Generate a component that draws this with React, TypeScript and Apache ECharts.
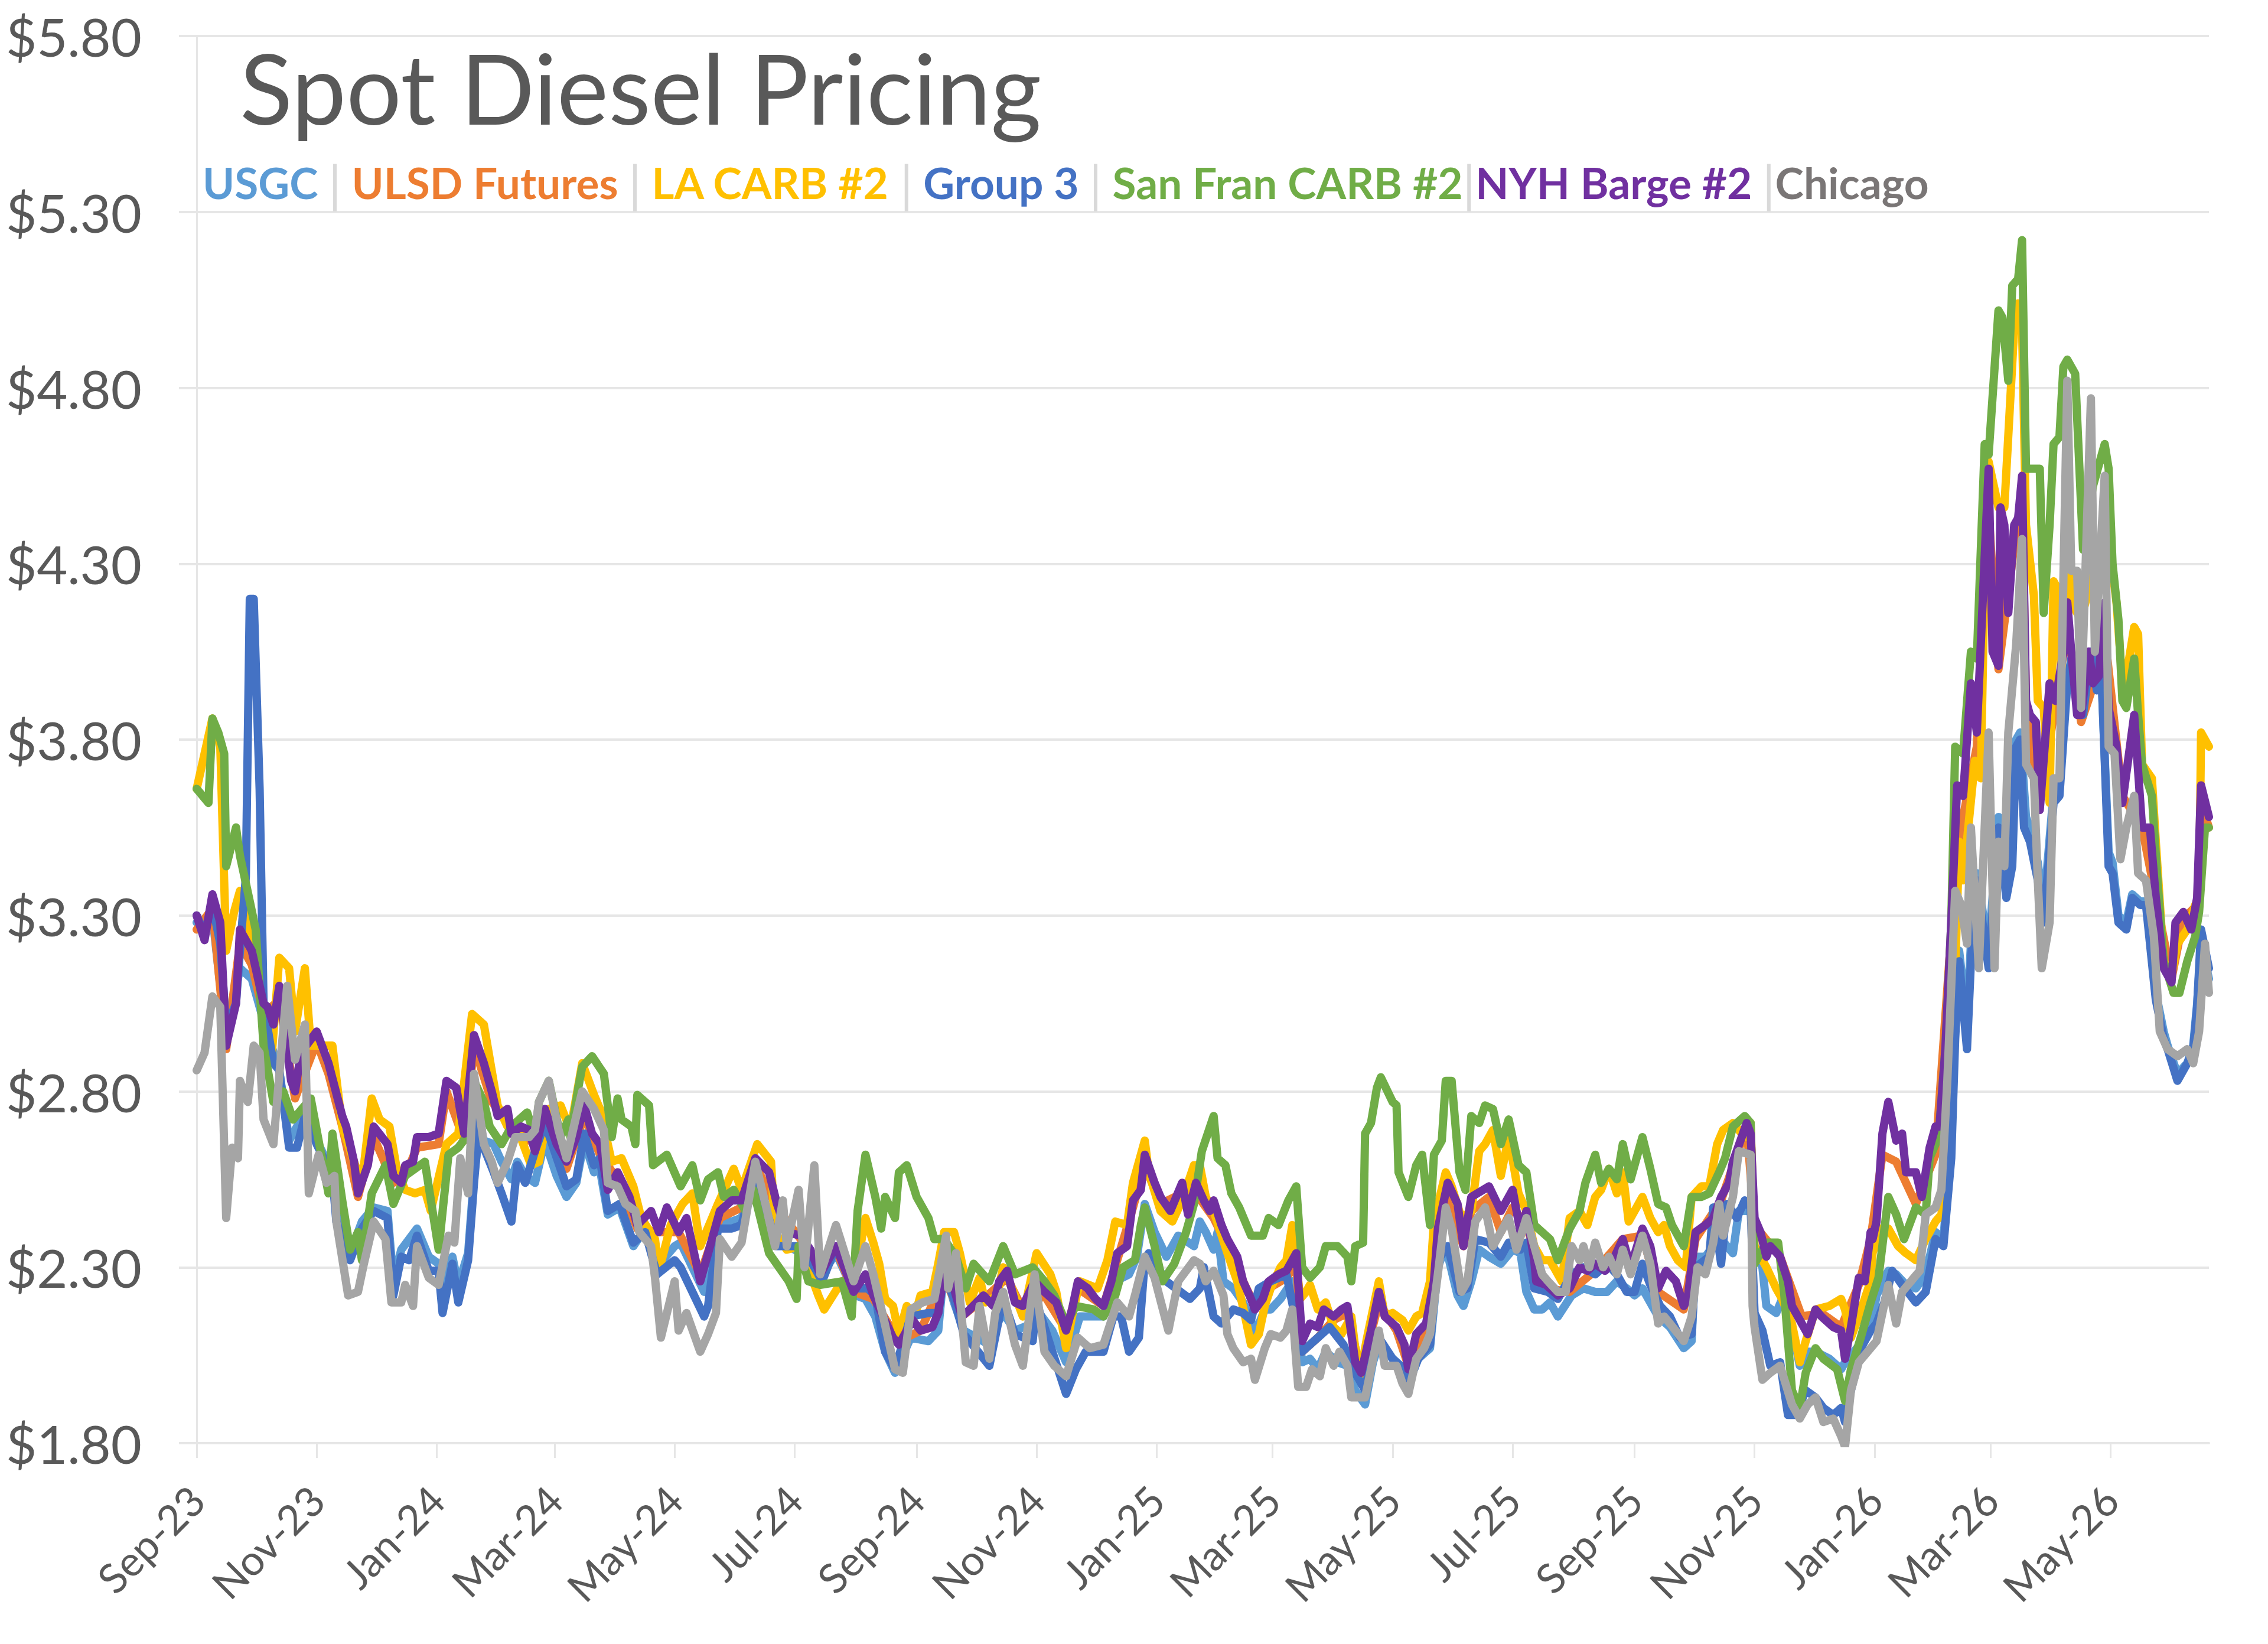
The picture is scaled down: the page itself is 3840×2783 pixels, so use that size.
import React, { useEffect, useRef } from "react";
import * as echarts from "echarts";

// ---- axis / categories ----
const START_UTC = Date.UTC(2023, 8, 1); // 2023-09-01
const DAY_COUNT = 1024; // through 2026-06-20
const MONTHS = ["Jan", "Feb", "Mar", "Apr", "May", "Jun", "Jul", "Aug", "Sep", "Oct", "Nov", "Dec"];
const LABEL_MONTHS = [9, 11, 1, 3, 5, 7];
const Y_MIN = 1.8;
const Y_MAX = 5.8;
const Y_STEP = 0.5;

const categories: string[] = [];
for (let i = 0; i < DAY_COUNT; i++) {
  categories.push(new Date(START_UTC + i * 86400000).toISOString().slice(0, 10));
}

// ---- series values: [days since 2023-09-01, $/gal] ----
const usgc: [number, number][] = [[0,3.28],[8,3.30],[15,2.95],[22,3.15],[28,3.12],[34,3.00],[42,2.86],[47,2.66],[55,2.74],[61,2.66],[69,2.57],[71,2.45],[78,2.34],[84,2.43],[90,2.47],[97,2.46],[100,2.26],[104,2.35],[112,2.41],[118,2.33],[123,2.31],[125,2.24],[130,2.33],[133,2.25],[138,2.34],[141,2.56],[144,2.70],[146,2.66],[151,2.65],[155,2.60],[160,2.55],[163,2.60],[167,2.56],[172,2.54],[177,2.66],[183,2.56],[188,2.50],[193,2.54],[197,2.66],[202,2.57],[205,2.58],[209,2.45],[215,2.47],[222,2.36],[228,2.41],[234,2.30],[243,2.36],[246,2.37],[252,2.30],[258,2.23],[260,2.26],[265,2.43],[272,2.43],[277,2.44],[284,2.56],[291,2.44],[295,2.38],[307,2.34],[312,2.30],[318,2.28],[325,2.34],[335,2.22],[340,2.21],[345,2.16],[350,2.06],[355,2.00],[363,2.10],[372,2.09],[377,2.12],[380,2.30],[385,2.20],[390,2.12],[403,2.08],[407,2.14],[410,2.17],[416,2.12],[425,2.14],[427,2.18],[435,2.12],[442,2.03],[449,2.16],[461,2.16],[467,2.26],[474,2.28],[478,2.33],[482,2.48],[487,2.40],[493,2.33],[499,2.39],[507,2.36],[510,2.43],[513,2.40],[517,2.35],[519,2.40],[522,2.26],[527,2.24],[532,2.20],[536,2.15],[538,2.11],[543,2.18],[546,2.18],[551,2.21],[557,2.26],[562,2.03],[566,2.04],[570,2.01],[574,2.06],[580,2.03],[585,2.02],[589,1.95],[594,1.91],[598,2.03],[601,2.08],[608,2.04],[614,2.01],[616,1.97],[621,2.04],[627,2.07],[631,2.30],[635,2.36],[641,2.22],[644,2.19],[648,2.26],[652,2.35],[657,2.33],[663,2.31],[669,2.35],[673,2.34],[676,2.23],[680,2.18],[684,2.18],[688,2.20],[692,2.16],[699,2.22],[705,2.24],[711,2.23],[717,2.23],[722,2.26],[727,2.24],[731,2.22],[735,2.24],[739,2.20],[743,2.16],[749,2.13],[756,2.07],[760,2.09],[762,2.33],[767,2.33],[771,2.36],[775,2.38],[781,2.34],[784,2.46],[790,2.46],[792,2.36],[796,2.30],[798,2.19],[803,2.17],[806,2.21],[811,2.13],[815,2.02],[819,2.06],[823,2.06],[830,2.04],[836,2.01],[838,2.03],[841,2.05],[847,2.09],[851,2.12],[854,2.22],[860,2.29],[864,2.28],[869,2.25],[874,2.24],[879,2.28],[884,2.40],[888,2.38],[892,2.65],[894,3.00],[896,3.20],[900,3.00],[902,3.22],[905,3.42],[911,3.20],[916,3.58],[920,3.40],[923,3.48],[925,3.80],[927,3.82],[930,3.58],[932,3.55],[936,3.45],[939,3.32],[944,3.65],[947,3.66],[951,3.98],[953,4.02],[957,3.90],[959,3.88],[963,4.03],[966,3.96],[968,4.03],[972,3.48],[974,3.45],[977,3.30],[981,3.28],[984,3.36],[988,3.34],[991,3.34],[996,3.08],[1000,2.97],[1002,2.93],[1007,2.85],[1012,2.88],[1015,2.93],[1017,3.05],[1019,3.22],[1023,3.12]];

const ulsd: [number, number][] = [[0,3.26],[8,3.32],[15,2.92],[22,3.22],[28,3.16],[34,3.02],[42,3.06],[50,2.78],[61,2.94],[67,2.85],[74,2.70],[82,2.50],[90,2.67],[100,2.54],[106,2.56],[112,2.64],[123,2.65],[127,2.80],[136,2.66],[141,2.93],[150,2.77],[158,2.72],[169,2.66],[177,2.72],[188,2.58],[197,2.73],[205,2.62],[214,2.55],[224,2.41],[235,2.40],[245,2.40],[256,2.28],[266,2.44],[277,2.47],[284,2.59],[295,2.47],[307,2.38],[317,2.28],[325,2.35],[334,2.23],[344,2.21],[357,2.09],[368,2.12],[380,2.27],[389,2.16],[400,2.21],[412,2.27],[420,2.18],[431,2.22],[442,2.12],[448,2.24],[461,2.19],[468,2.32],[476,2.47],[482,2.59],[490,2.48],[501,2.51],[508,2.51],[517,2.44],[524,2.36],[532,2.26],[538,2.19],[545,2.24],[554,2.27],[559,2.31],[562,2.06],[570,2.10],[578,2.15],[585,2.17],[592,2.00],[601,2.20],[610,2.12],[616,2.02],[625,2.13],[631,2.38],[636,2.50],[644,2.36],[648,2.46],[657,2.50],[663,2.40],[669,2.47],[676,2.42],[686,2.24],[698,2.23],[711,2.29],[725,2.38],[735,2.39],[743,2.23],[756,2.18],[762,2.38],[775,2.49],[788,2.70],[792,2.42],[805,2.33],[816,2.16],[826,2.17],[836,2.13],[845,2.25],[851,2.38],[857,2.62],[864,2.60],[874,2.48],[884,2.62],[892,3.25],[898,3.58],[905,3.78],[911,4.45],[916,4.00],[924,4.35],[928,4.50],[930,3.90],[937,3.62],[945,3.90],[951,4.12],[958,3.85],[964,3.95],[970,4.10],[979,3.64],[989,3.55],[996,3.35],[1004,3.12],[1010,3.29],[1017,3.33],[1019,3.62],[1023,3.55]];

const laCarb: [number, number][] = [[0,3.66],[8,3.86],[12,3.78],[15,3.20],[19,3.31],[22,3.37],[26,3.28],[30,3.18],[36,2.94],[38,2.89],[42,3.18],[47,3.15],[50,2.97],[55,3.15],[58,2.93],[69,2.93],[74,2.70],[80,2.60],[84,2.54],[89,2.78],[93,2.72],[98,2.70],[102,2.57],[106,2.52],[111,2.51],[116,2.52],[119,2.46],[127,2.65],[133,2.68],[140,3.02],[146,2.99],[153,2.76],[158,2.70],[162,2.71],[170,2.59],[174,2.60],[179,2.75],[185,2.76],[190,2.69],[196,2.88],[202,2.79],[205,2.75],[211,2.60],[216,2.61],[222,2.53],[226,2.44],[233,2.38],[235,2.29],[241,2.42],[247,2.48],[252,2.51],[256,2.36],[262,2.44],[265,2.48],[273,2.58],[277,2.52],[285,2.65],[292,2.60],[294,2.40],[300,2.35],[307,2.36],[316,2.22],[319,2.18],[328,2.26],[333,2.22],[340,2.44],[344,2.37],[347,2.31],[350,2.21],[354,2.19],[357,2.11],[361,2.19],[365,2.16],[368,2.22],[374,2.23],[377,2.31],[380,2.40],[385,2.40],[388,2.34],[391,2.26],[393,2.20],[398,2.27],[401,2.20],[407,2.22],[410,2.30],[416,2.22],[420,2.16],[427,2.34],[434,2.28],[437,2.23],[442,2.07],[445,2.16],[449,2.26],[458,2.24],[463,2.32],[467,2.43],[473,2.42],[476,2.54],[482,2.66],[484,2.57],[490,2.46],[496,2.43],[501,2.49],[507,2.59],[510,2.59],[513,2.50],[517,2.46],[524,2.34],[529,2.26],[533,2.16],[536,2.08],[540,2.11],[543,2.19],[546,2.24],[551,2.30],[554,2.32],[557,2.42],[561,2.21],[564,2.23],[566,2.25],[570,2.18],[574,2.20],[578,2.13],[582,2.11],[587,2.16],[591,1.98],[595,2.10],[601,2.26],[604,2.16],[608,2.17],[613,2.15],[616,2.12],[620,2.16],[623,2.17],[627,2.26],[629,2.43],[635,2.57],[638,2.53],[643,2.44],[648,2.46],[652,2.63],[655,2.65],[659,2.69],[663,2.56],[667,2.67],[672,2.51],[676,2.46],[680,2.36],[684,2.32],[688,2.32],[694,2.26],[698,2.44],[703,2.46],[707,2.42],[711,2.50],[714,2.52],[718,2.58],[722,2.51],[725,2.57],[728,2.43],[735,2.50],[739,2.44],[743,2.40],[746,2.42],[749,2.36],[753,2.32],[757,2.30],[760,2.50],[765,2.53],[769,2.53],[773,2.65],[776,2.69],[781,2.71],[787,2.67],[790,2.71],[792,2.36],[798,2.30],[803,2.24],[806,2.21],[811,2.14],[815,2.03],[818,2.09],[823,2.18],[830,2.19],[836,2.21],[838,2.18],[841,2.10],[845,2.16],[851,2.26],[852,2.34],[856,2.41],[860,2.41],[865,2.36],[869,2.34],[874,2.32],[879,2.38],[884,2.43],[887,2.45],[890,2.61],[893,2.95],[896,3.51],[898,3.40],[904,3.74],[907,3.69],[909,4.28],[911,4.59],[916,4.46],[919,4.46],[924,4.97],[926,5.04],[928,4.97],[930,4.41],[934,4.21],[936,3.91],[939,3.89],[942,3.62],[944,4.25],[946,4.23],[948,3.96],[951,4.60],[953,4.19],[958,4.14],[962,4.23],[965,4.32],[967,4.23],[970,4.34],[972,4.41],[974,4.28],[976,4.19],[979,3.96],[981,3.98],[985,4.12],[987,4.10],[989,3.73],[994,3.69],[996,3.51],[1000,3.17],[1004,3.13],[1007,3.22],[1012,3.26],[1016,3.33],[1018,3.35],[1019,3.82],[1023,3.78]];

const group3: [number, number][] = [[0,3.30],[4,3.25],[8,3.33],[12,3.22],[15,2.98],[20,3.05],[22,3.20],[25,3.41],[27,4.20],[29,4.20],[32,3.66],[34,3.05],[39,2.88],[42,2.86],[47,2.64],[51,2.64],[55,2.73],[61,2.65],[69,2.56],[71,2.43],[78,2.32],[84,2.41],[90,2.46],[97,2.44],[100,2.22],[104,2.33],[108,2.32],[112,2.39],[118,2.29],[123,2.29],[125,2.17],[130,2.31],[133,2.20],[138,2.32],[141,2.54],[144,2.73],[146,2.64],[151,2.57],[155,2.51],[160,2.43],[163,2.59],[167,2.54],[172,2.63],[177,2.71],[188,2.53],[193,2.55],[197,2.68],[202,2.59],[205,2.61],[209,2.46],[215,2.48],[222,2.37],[228,2.40],[234,2.28],[243,2.32],[246,2.30],[258,2.16],[260,2.19],[265,2.41],[272,2.41],[277,2.42],[284,2.57],[295,2.36],[307,2.36],[312,2.32],[318,2.26],[325,2.36],[335,2.24],[341,2.24],[345,2.22],[350,2.06],[355,2.01],[363,2.16],[372,2.17],[377,2.17],[380,2.28],[385,2.21],[390,2.11],[403,2.02],[407,2.13],[410,2.21],[416,2.11],[425,2.09],[427,2.20],[435,2.06],[442,1.94],[447,2.01],[452,2.06],[461,2.06],[466,2.16],[470,2.16],[474,2.06],[479,2.10],[482,2.32],[484,2.34],[493,2.26],[505,2.21],[510,2.24],[512,2.30],[517,2.16],[521,2.14],[527,2.18],[532,2.17],[536,2.15],[540,2.24],[546,2.26],[554,2.28],[562,2.06],[568,2.09],[576,2.13],[583,2.08],[589,2.00],[594,1.95],[598,2.07],[601,2.10],[608,2.04],[614,2.01],[616,1.97],[621,2.04],[627,2.08],[631,2.32],[636,2.36],[642,2.23],[646,2.24],[650,2.38],[657,2.37],[663,2.33],[667,2.37],[673,2.35],[676,2.37],[680,2.24],[687,2.23],[692,2.21],[699,2.28],[705,2.30],[711,2.28],[717,2.31],[722,2.28],[727,2.23],[731,2.23],[735,2.31],[739,2.25],[744,2.19],[749,2.16],[754,2.10],[760,2.11],[762,2.30],[769,2.33],[771,2.47],[775,2.31],[778,2.48],[783,2.44],[787,2.49],[790,2.47],[792,2.17],[796,2.12],[800,2.02],[805,2.03],[809,1.88],[813,1.88],[818,1.95],[823,1.93],[827,1.90],[832,1.88],[836,1.90],[838,1.86],[841,1.95],[847,2.08],[851,2.12],[854,2.14],[858,2.20],[862,2.29],[867,2.25],[874,2.20],[879,2.23],[884,2.38],[888,2.36],[892,2.61],[894,2.95],[896,3.17],[900,2.92],[902,3.17],[905,3.40],[911,3.15],[916,3.55],[920,3.35],[923,3.44],[925,3.78],[927,3.80],[929,3.55],[932,3.51],[936,3.40],[939,3.28],[944,3.62],[947,3.64],[951,3.96],[953,4.03],[957,3.87],[959,3.87],[963,4.05],[966,3.94],[968,4.05],[972,3.44],[974,3.42],[977,3.28],[981,3.26],[984,3.35],[988,3.33],[991,3.33],[996,3.06],[1000,2.95],[1002,2.92],[1007,2.83],[1012,2.88],[1015,2.92],[1017,3.04],[1019,3.26],[1023,3.15]];

const sanFran: [number, number][] = [[0,3.66],[6,3.62],[8,3.86],[11,3.82],[14,3.76],[15,3.44],[20,3.55],[22,3.47],[27,3.34],[30,3.26],[34,2.93],[39,2.77],[44,2.80],[49,2.72],[58,2.78],[67,2.51],[69,2.68],[74,2.49],[78,2.35],[82,2.40],[84,2.32],[89,2.51],[96,2.59],[100,2.48],[106,2.56],[116,2.60],[123,2.35],[128,2.62],[133,2.64],[137,2.67],[141,2.83],[146,2.77],[149,2.70],[155,2.65],[160,2.70],[168,2.74],[172,2.67],[174,2.77],[179,2.83],[185,2.67],[189,2.72],[190,2.67],[194,2.81],[196,2.87],[201,2.90],[207,2.85],[211,2.67],[214,2.78],[216,2.72],[221,2.70],[223,2.65],[224,2.79],[230,2.76],[232,2.59],[239,2.62],[246,2.53],[252,2.59],[256,2.49],[260,2.55],[265,2.57],[268,2.50],[273,2.52],[279,2.46],[283,2.52],[291,2.34],[301,2.26],[305,2.21],[306,2.36],[311,2.26],[317,2.25],[328,2.26],[333,2.16],[336,2.46],[340,2.62],[345,2.50],[348,2.41],[350,2.50],[355,2.44],[357,2.57],[361,2.59],[366,2.50],[372,2.44],[375,2.38],[380,2.38],[386,2.33],[391,2.24],[395,2.31],[403,2.26],[410,2.36],[416,2.28],[425,2.30],[431,2.26],[436,2.22],[442,2.14],[447,2.19],[456,2.18],[461,2.16],[467,2.22],[471,2.30],[477,2.32],[480,2.42],[482,2.47],[487,2.36],[491,2.26],[497,2.31],[503,2.40],[507,2.48],[511,2.63],[517,2.73],[519,2.61],[523,2.59],[526,2.51],[530,2.47],[536,2.39],[542,2.39],[545,2.44],[550,2.42],[555,2.49],[559,2.53],[562,2.30],[566,2.27],[571,2.30],[574,2.36],[580,2.36],[585,2.33],[587,2.26],[589,2.36],[593,2.37],[594,2.68],[597,2.71],[600,2.81],[602,2.84],[608,2.77],[610,2.76],[611,2.57],[616,2.50],[620,2.59],[623,2.62],[627,2.42],[629,2.62],[633,2.66],[635,2.83],[638,2.83],[642,2.57],[645,2.52],[648,2.73],[652,2.71],[655,2.76],[659,2.75],[663,2.65],[667,2.72],[672,2.59],[676,2.57],[680,2.42],[688,2.38],[692,2.32],[698,2.41],[703,2.46],[706,2.54],[711,2.62],[714,2.54],[718,2.58],[722,2.55],[725,2.65],[729,2.55],[735,2.67],[739,2.58],[743,2.48],[747,2.47],[750,2.42],[756,2.36],[760,2.50],[765,2.50],[769,2.51],[774,2.57],[777,2.61],[781,2.70],[787,2.73],[790,2.71],[792,2.31],[798,2.37],[804,2.37],[807,2.23],[811,1.95],[815,1.90],[818,2.00],[823,2.07],[827,2.04],[834,2.01],[838,1.92],[841,2.01],[846,2.10],[851,2.20],[855,2.27],[860,2.50],[864,2.45],[868,2.38],[874,2.47],[879,2.45],[881,2.61],[884,2.65],[886,2.70],[889,2.92],[892,3.28],[894,3.78],[898,3.76],[902,4.05],[905,4.03],[909,4.64],[911,4.61],[916,5.02],[918,5.00],[921,4.82],[923,5.09],[926,5.11],[928,5.22],[930,4.57],[934,4.57],[937,4.57],[939,4.16],[942,4.41],[944,4.64],[947,4.66],[949,4.86],[951,4.88],[955,4.84],[957,4.59],[959,4.34],[964,4.52],[970,4.64],[972,4.57],[974,4.30],[977,4.14],[979,3.91],[981,3.89],[985,4.03],[987,3.87],[989,3.73],[994,3.64],[997,3.39],[1000,3.17],[1005,3.08],[1008,3.08],[1012,3.17],[1016,3.24],[1018,3.31],[1021,3.55],[1023,3.55]];

const nyhBarge: [number, number][] = [[0,3.30],[4,3.23],[8,3.36],[12,3.28],[15,2.93],[20,3.05],[22,3.26],[28,3.20],[34,3.05],[36,3.04],[39,2.99],[42,3.10],[48,2.83],[50,2.80],[53,2.91],[61,2.97],[67,2.88],[74,2.73],[76,2.70],[80,2.60],[82,2.51],[87,2.59],[90,2.70],[97,2.65],[100,2.56],[104,2.54],[106,2.59],[110,2.60],[112,2.67],[118,2.67],[123,2.68],[127,2.83],[132,2.81],[136,2.68],[141,2.96],[146,2.88],[150,2.80],[153,2.73],[158,2.75],[160,2.68],[165,2.70],[169,2.69],[172,2.63],[177,2.75],[183,2.65],[188,2.60],[193,2.67],[197,2.76],[201,2.68],[205,2.65],[209,2.52],[214,2.57],[220,2.50],[224,2.42],[231,2.46],[235,2.40],[239,2.47],[245,2.40],[249,2.44],[256,2.26],[262,2.38],[266,2.46],[272,2.49],[277,2.49],[284,2.61],[291,2.57],[295,2.48],[300,2.40],[307,2.39],[312,2.35],[317,2.28],[325,2.36],[334,2.23],[340,2.28],[341,2.27],[344,2.22],[354,2.10],[357,2.08],[364,2.15],[368,2.12],[374,2.13],[377,2.17],[380,2.29],[384,2.26],[389,2.16],[393,2.18],[400,2.22],[405,2.19],[408,2.26],[412,2.29],[416,2.20],[420,2.19],[426,2.26],[431,2.23],[437,2.20],[442,2.12],[445,2.18],[448,2.26],[453,2.24],[457,2.21],[461,2.19],[465,2.26],[468,2.34],[473,2.36],[476,2.49],[480,2.52],[482,2.62],[487,2.54],[490,2.50],[495,2.46],[501,2.54],[504,2.45],[508,2.54],[512,2.49],[515,2.46],[517,2.49],[521,2.42],[524,2.38],[529,2.33],[532,2.26],[536,2.21],[538,2.18],[542,2.21],[545,2.26],[550,2.28],[554,2.29],[559,2.34],[562,2.09],[566,2.14],[570,2.13],[573,2.18],[578,2.16],[582,2.18],[585,2.19],[589,2.03],[592,2.00],[597,2.12],[601,2.23],[604,2.16],[610,2.13],[614,2.08],[616,2.01],[620,2.11],[625,2.14],[629,2.26],[631,2.41],[636,2.54],[641,2.48],[644,2.36],[648,2.50],[657,2.53],[663,2.46],[669,2.52],[673,2.40],[676,2.46],[680,2.32],[681,2.26],[686,2.25],[692,2.22],[698,2.24],[703,2.30],[707,2.29],[711,2.31],[716,2.29],[720,2.32],[725,2.38],[729,2.30],[735,2.41],[739,2.36],[743,2.24],[747,2.29],[752,2.26],[756,2.19],[758,2.21],[762,2.40],[767,2.42],[771,2.44],[775,2.50],[779,2.54],[781,2.60],[788,2.71],[790,2.68],[792,2.44],[795,2.40],[798,2.33],[800,2.36],[805,2.33],[809,2.26],[811,2.19],[816,2.14],[819,2.11],[823,2.18],[826,2.16],[832,2.13],[836,2.12],[838,2.04],[841,2.13],[845,2.27],[848,2.26],[851,2.40],[852,2.38],[854,2.43],[857,2.68],[860,2.77],[864,2.66],[867,2.68],[869,2.57],[874,2.57],[877,2.50],[881,2.64],[884,2.70],[886,2.70],[889,2.92],[892,3.28],[895,3.67],[898,3.64],[902,3.96],[905,3.82],[911,4.57],[913,4.05],[916,4.01],[917,4.46],[919,4.41],[921,4.16],[924,4.41],[926,4.43],[928,4.55],[930,3.91],[932,3.87],[935,3.85],[937,3.60],[942,3.96],[945,3.91],[949,4.05],[951,4.19],[953,4.05],[956,3.87],[958,3.87],[962,4.05],[964,3.96],[967,3.98],[970,4.19],[972,3.89],[976,3.78],[979,3.62],[985,3.87],[989,3.55],[993,3.55],[996,3.35],[1000,3.15],[1004,3.11],[1006,3.28],[1010,3.31],[1014,3.26],[1017,3.35],[1019,3.67],[1023,3.58]];

const chicago: [number, number][] = [[0,2.86],[4,2.91],[8,3.07],[12,3.04],[15,2.44],[18,2.64],[21,2.61],[22,2.83],[26,2.77],[29,2.93],[32,2.91],[34,2.72],[39,2.65],[43,2.91],[46,3.10],[50,2.89],[55,2.99],[57,2.51],[62,2.62],[66,2.54],[70,2.56],[71,2.43],[77,2.22],[82,2.23],[85,2.31],[90,2.43],[96,2.38],[99,2.20],[104,2.20],[106,2.25],[110,2.19],[112,2.36],[118,2.27],[123,2.25],[128,2.39],[131,2.37],[134,2.61],[138,2.51],[141,2.85],[146,2.65],[150,2.60],[153,2.54],[158,2.60],[162,2.67],[169,2.67],[172,2.69],[174,2.77],[179,2.83],[184,2.69],[188,2.61],[193,2.73],[196,2.80],[202,2.75],[207,2.69],[209,2.54],[214,2.53],[218,2.48],[223,2.46],[225,2.40],[231,2.36],[233,2.27],[236,2.10],[243,2.26],[245,2.12],[249,2.17],[256,2.06],[260,2.11],[264,2.17],[266,2.38],[272,2.33],[277,2.37],[284,2.60],[290,2.46],[294,2.36],[298,2.49],[300,2.36],[306,2.52],[309,2.30],[314,2.59],[317,2.28],[325,2.42],[334,2.26],[340,2.36],[344,2.28],[349,2.16],[355,2.01],[359,2.00],[363,2.18],[369,2.20],[375,2.21],[381,2.39],[382,2.24],[386,2.34],[391,2.03],[395,2.02],[398,2.19],[403,2.04],[406,2.17],[410,2.23],[416,2.08],[420,2.02],[426,2.28],[431,2.06],[436,2.02],[442,1.99],[448,2.10],[454,2.07],[461,2.08],[468,2.20],[474,2.16],[477,2.22],[482,2.33],[487,2.27],[494,2.12],[499,2.26],[507,2.32],[510,2.31],[513,2.26],[517,2.29],[522,2.22],[524,2.11],[527,2.07],[532,2.03],[536,2.04],[538,1.98],[543,2.07],[546,2.11],[551,2.10],[554,2.12],[557,2.18],[560,1.96],[564,1.96],[567,2.01],[571,1.99],[574,2.07],[578,2.02],[581,2.06],[585,2.02],[587,1.93],[594,1.93],[597,2.01],[601,2.12],[604,2.02],[610,2.02],[613,1.97],[616,1.94],[620,2.04],[624,2.07],[627,2.11],[631,2.28],[635,2.47],[638,2.41],[643,2.23],[646,2.26],[650,2.43],[655,2.47],[659,2.36],[667,2.44],[671,2.35],[676,2.44],[680,2.36],[684,2.28],[687,2.26],[692,2.23],[696,2.23],[699,2.36],[703,2.32],[705,2.36],[708,2.30],[711,2.37],[715,2.30],[718,2.33],[722,2.28],[725,2.35],[729,2.28],[735,2.39],[739,2.31],[743,2.14],[746,2.16],[749,2.14],[756,2.09],[760,2.16],[763,2.30],[767,2.28],[771,2.37],[774,2.48],[776,2.39],[781,2.50],[784,2.63],[790,2.62],[791,2.19],[792,2.13],[796,1.98],[800,2.00],[805,2.02],[811,1.91],[815,1.87],[819,1.91],[823,1.93],[827,1.86],[832,1.87],[836,1.82],[838,1.79],[841,1.95],[845,2.03],[851,2.07],[854,2.09],[860,2.25],[864,2.14],[867,2.23],[873,2.27],[876,2.29],[879,2.45],[884,2.47],[887,2.52],[890,2.83],[894,3.37],[897,3.33],[900,3.22],[902,3.55],[906,3.15],[911,3.82],[914,3.15],[916,3.51],[919,3.44],[921,3.82],[925,4.07],[928,4.37],[930,3.73],[934,3.69],[936,3.40],[938,3.15],[942,3.28],[944,3.69],[947,3.69],[951,4.82],[953,4.28],[956,4.28],[958,3.89],[963,4.77],[965,4.05],[970,4.55],[972,3.78],[975,3.76],[978,3.46],[981,3.55],[985,3.64],[987,3.42],[991,3.40],[995,3.24],[998,2.97],[1002,2.92],[1007,2.90],[1012,2.92],[1015,2.88],[1018,2.97],[1021,3.22],[1023,3.08]];

const SERIES_NAMES = ["USGC", "ULSD Futures", "LA CARB #2", "Group 3", "San Fran CARB #2", "NYH Barge #2", "Chicago"];
const SERIES_DATA = [usgc, ulsd, laCarb, group3, sanFran, nyhBarge, chicago];
const SERIES_COLORS = ["#5B9BD5", "#ED7D31", "#FFC000", "#4472C4", "#70AD47", "#7030A0", "#A5A5A5"];
const LEGEND_TEXT_COLORS = ["#5B9BD5", "#ED7D31", "#FFC000", "#4472C4", "#70AD47", "#7030A0", "#7A7676"];

const FONT = "Lato, 'Noto Sans', sans-serif";
const GRID_COLOR = "#E6E6E6";

function isLabelDay(value: string): boolean {
  const parts = value.split("-");
  return parts[2] === "01" && LABEL_MONTHS.indexOf(Number(parts[1])) >= 0;
}

export default function App() {
  const ref = useRef<HTMLDivElement>(null);

  useEffect(() => {
    if (!ref.current) return;
    const chart = echarts.init(ref.current, undefined, { renderer: "svg" });

    const keys = ["u", "o", "y", "b", "g", "p", "c"];
    const rich: Record<string, any> = {
      s: { color: "#D9D9D9", fontSize: 86, fontFamily: FONT, fontWeight: "normal", lineHeight: 86 },
    };
    keys.forEach((k, i) => {
      rich[k] = { color: LEGEND_TEXT_COLORS[i], fontSize: 73, fontFamily: FONT, fontWeight: "bold", lineHeight: 86 };
    });
    const t = (i: number) => `{${keys[i]}|${SERIES_NAMES[i]}}`;
    const legendText =
      `${t(0)} {s||} ${t(1)} {s||} ${t(2)} {s||} ${t(3)} {s||} ${t(4)}{s||}${t(5)} {s||}${t(6)}`;

    chart.setOption({
      animation: false,
      backgroundColor: "#FFFFFF",
      title: [
        {
          text: "Spot Diesel Pricing",
          left: 406,
          top: 64,
          padding: 0,
          textStyle: { color: "#595959", fontSize: 165, fontFamily: FONT, fontWeight: "normal", lineHeight: 165 },
        },
        {
          text: legendText,
          left: 343,
          top: 266,
          padding: 0,
          textStyle: { fontSize: 73, fontFamily: FONT, lineHeight: 86, rich },
        },
      ],
      grid: { left: 333, right: 100, top: 61, bottom: 340, containLabel: false },
      xAxis: {
        type: "category",
        data: categories,
        boundaryGap: false,
        axisLine: { show: true, lineStyle: { color: GRID_COLOR, width: 4 } },
        axisTick: {
          show: true,
          length: 25,
          interval: (_i: number, v: string) => isLabelDay(v),
          lineStyle: { color: GRID_COLOR, width: 3 },
        },
        axisLabel: {
          interval: (_i: number, v: string) => isLabelDay(v),
          rotate: 45,
          margin: 84,
          color: "#595959",
          fontSize: 70,
          fontFamily: FONT,
          formatter: (v: string) => {
            const p = v.split("-");
            return `${MONTHS[Number(p[1]) - 1]}-${p[0].slice(2)}`;
          },
        },
        splitLine: { show: false },
      },
      yAxis: {
        type: "value",
        min: Y_MIN,
        max: Y_MAX,
        interval: Y_STEP,
        axisLine: { show: true, lineStyle: { color: GRID_COLOR, width: 3 } },
        axisTick: { show: true, length: 30, lineStyle: { color: GRID_COLOR, width: 4 } },
        splitLine: { show: true, lineStyle: { color: GRID_COLOR, width: 4 } },
        axisLabel: {
          margin: 93,
          color: "#595959",
          fontSize: 90,
          fontFamily: FONT,
          formatter: (v: number) => "$" + v.toFixed(2),
        },
      },
      series: SERIES_NAMES.map((name, i) => ({
        name,
        type: "line",
        data: SERIES_DATA[i].map(([d, v]) => [categories[d], v]),
        showSymbol: false,
        symbol: "none",
        color: SERIES_COLORS[i],
        lineStyle: { color: SERIES_COLORS[i], width: 14, cap: "round", join: "round" },
        emphasis: { disabled: true },
        z: 2 + i,
      })),
    });

    return () => chart.dispose();
  }, []);

  return <div ref={ref} style={{ position: "absolute", left: 0, top: 0, width: 3840, height: 2783 }} />;
}
